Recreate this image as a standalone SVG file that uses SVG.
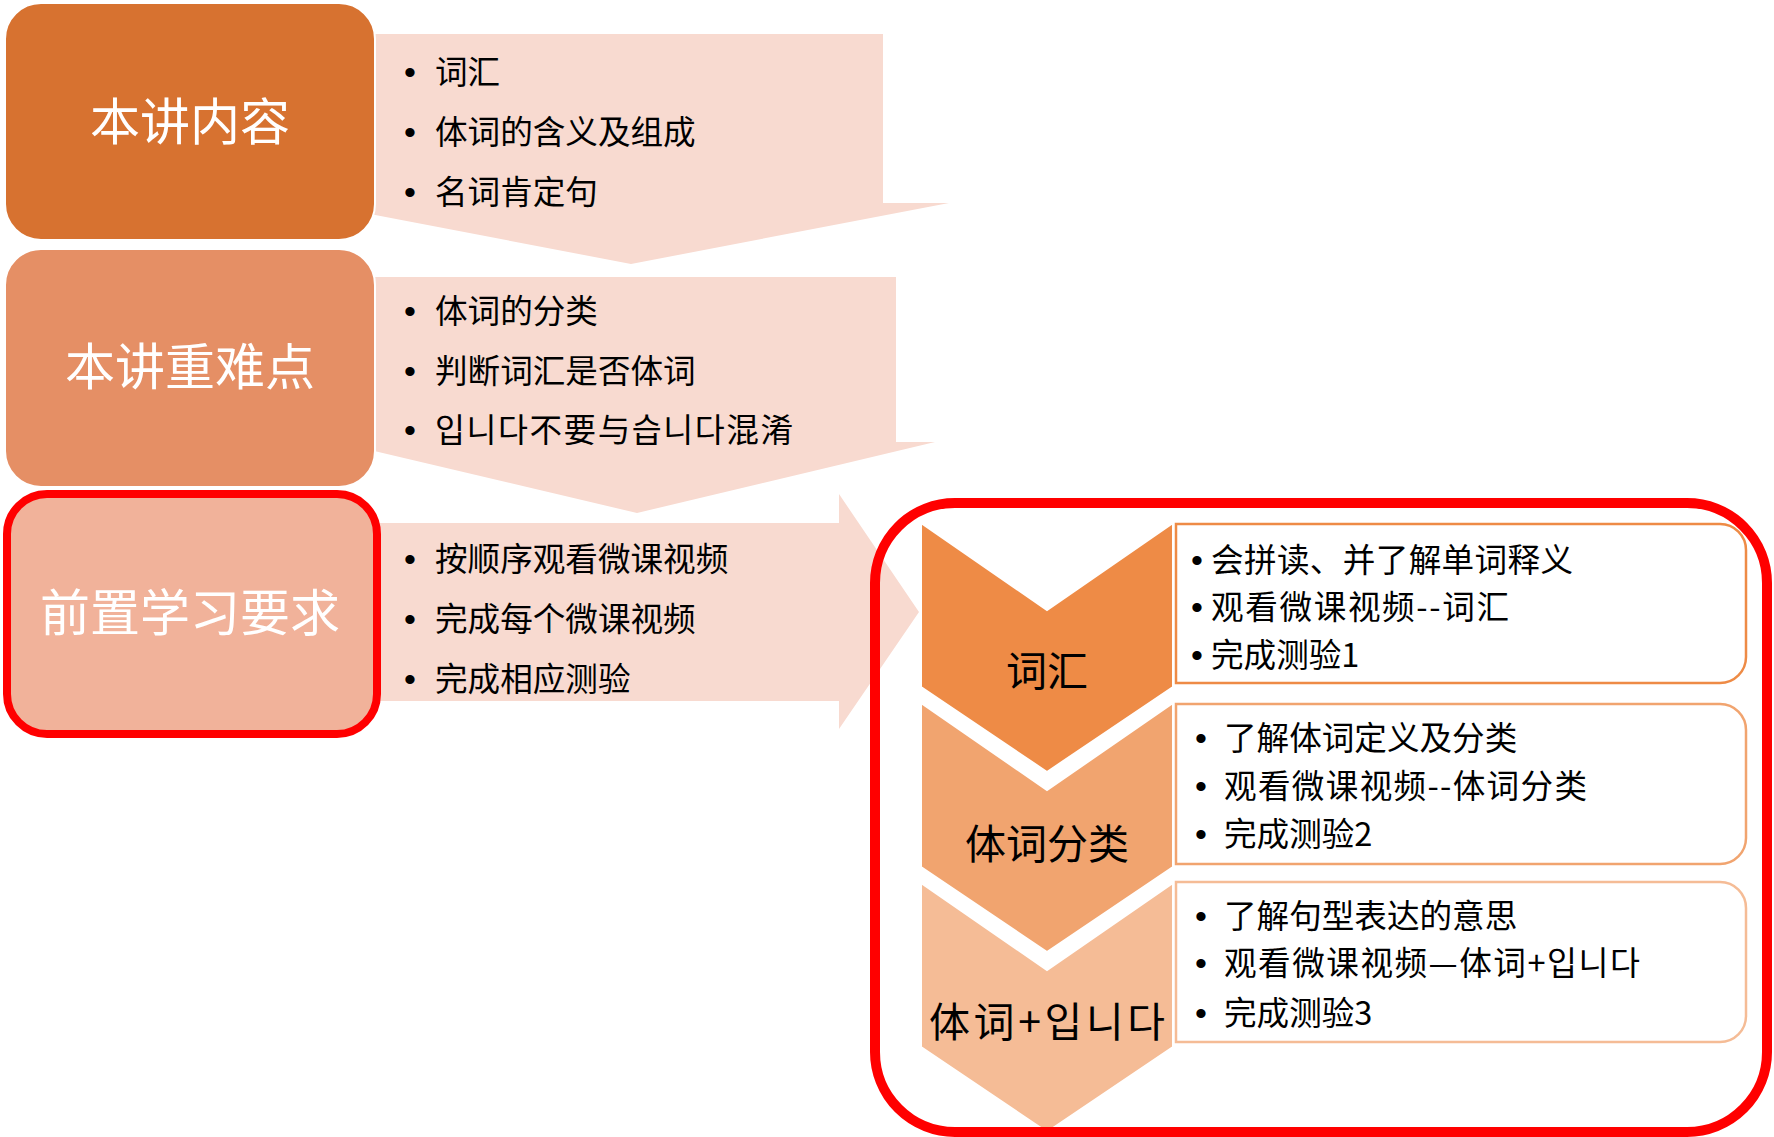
<svg xmlns="http://www.w3.org/2000/svg" width="1774" height="1137" viewBox="0 0 1774 1137">
<style>
.t{font-family:"Noto Sans CJK SC","Noto Sans",sans-serif;font-size:32.6px;fill:#000}
.b{font-family:"Liberation Sans",Arial,sans-serif;font-size:34px;fill:#000;text-anchor:middle}
.h{font-family:"Noto Sans CJK SC","Noto Sans",sans-serif;font-size:50px;fill:#fff;text-anchor:middle}
.c{font-family:"Noto Sans CJK SC","Noto Sans",sans-serif;font-size:41px;fill:#000;text-anchor:middle}
.arr{fill:#F8DAD0}
.box{stroke:#fff;stroke-width:2}
.chev{stroke:#fff;stroke-width:2}
.tb{fill:#fff;stroke-width:2.5}
</style>
<rect width="1774" height="1137" fill="#fff"/>
<g id="connectors">
<polygon class="arr" points="370,34 883,34 883,203 949,203 631,264 370,214"/>
<polygon class="arr" points="370,277 896,277 896,442 935,442 637,513 370,450"/>
<polygon class="arr" points="370,523 839,523 839,494 919,612 839,729 839,701 370,701"/>
</g>
<g id="node-content">
<rect class="box" x="5" y="3" width="370" height="237" rx="36" fill="#D77230"/>
<text class="h" x="190" y="140">本讲内容</text>
<text class="b" x="410" y="84">•</text><text class="t" x="435" y="84">词汇</text>
<text class="b" x="410" y="144">•</text><text class="t" x="435" y="144">体词的含义及组成</text>
<text class="b" x="410" y="204">•</text><text class="t" x="435" y="204">名词肯定句</text>
</g>
<g id="node-keypoints">
<rect class="box" x="5" y="249" width="370" height="238" rx="36" fill="#E58F65"/>
<text class="h" x="190" y="385">本讲重难点</text>
<text class="b" x="410" y="323">•</text><text class="t" x="435" y="323">体词的分类</text>
<text class="b" x="410" y="383">•</text><text class="t" x="435" y="383">判断词汇是否体词</text>
<text class="b" x="410" y="442">•</text><text class="t" x="435" y="442" textLength="358" lengthAdjust="spacing">입니다不要与습니다混淆</text>
</g>
<g id="node-prereq">
<rect x="5" y="496" width="370" height="237" rx="36" fill="#F1B29A"/>
<rect x="7" y="494" width="370" height="240" rx="40" fill="none" stroke="#FF0000" stroke-width="8"/>
<text class="h" x="190" y="631">前置学习要求</text>
<text class="b" x="410" y="571">•</text><text class="t" x="435" y="571">按顺序观看微课视频</text>
<text class="b" x="410" y="631">•</text><text class="t" x="435" y="631">完成每个微课视频</text>
<text class="b" x="410" y="691">•</text><text class="t" x="435" y="691">完成相应测验</text>
</g>
<g id="node-vocab">
<polygon class="chev" points="921,523 1047,610 1173,523 1173,687 1047,772 921,687" fill="#EE8B46"/>
<text class="c" x="1047" y="686">词汇</text>
<path class="tb" stroke="#EE8B46" d="M1176,524 H1720 A26,26 0 0 1 1746,550 V657 A26,26 0 0 1 1720,683 H1176 Z"/>
<text class="b" x="1197" y="572">•</text><text class="t" x="1211" y="572" textLength="362" lengthAdjust="spacing">会拼读、并了解单词释义</text>
<text class="b" x="1197" y="619">•</text><text class="t" x="1211" y="619" textLength="298" lengthAdjust="spacing">观看微课视频--词汇</text>
<text class="b" x="1197" y="667">•</text><text class="t" x="1211" y="667">完成测验1</text>
</g>
<g id="node-classify">
<polygon class="chev" points="921,703 1047,790 1173,703 1173,867 1047,952 921,867" fill="#F1A46F"/>
<text class="c" x="1047" y="859">体词分类</text>
<path class="tb" stroke="#F1A46F" d="M1176,704 H1720 A26,26 0 0 1 1746,730 V838 A26,26 0 0 1 1720,864 H1176 Z"/>
<text class="b" x="1201" y="750">•</text><text class="t" x="1224" y="750">了解体词定义及分类</text>
<text class="b" x="1201" y="798">•</text><text class="t" x="1224" y="798" textLength="363" lengthAdjust="spacing">观看微课视频--体词分类</text>
<text class="b" x="1201" y="846">•</text><text class="t" x="1224" y="846">完成测验2</text>
</g>
<g id="node-pattern">
<polygon class="chev" points="921,883 1047,970 1173,883 1173,1047 1047,1132 921,1047" fill="#F5BC96"/>
<text class="c" x="1047" y="1037" textLength="236" lengthAdjust="spacing">体词+입니다</text>
<path class="tb" stroke="#F5BC96" d="M1176,882 H1720 A26,26 0 0 1 1746,908 V1016 A26,26 0 0 1 1720,1042 H1176 Z"/>
<text class="b" x="1201" y="928">•</text><text class="t" x="1224" y="928">了解句型表达的意思</text>
<text class="b" x="1201" y="975">•</text><text class="t" x="1224" y="975" textLength="416" lengthAdjust="spacing">观看微课视频—体词+입니다</text>
<text class="b" x="1201" y="1025">•</text><text class="t" x="1224" y="1025">完成测验3</text>
</g>
<g id="highlight">
<rect x="875" y="503" width="892" height="629" rx="80" fill="none" stroke="#FF0000" stroke-width="10"/>
</g>
</svg>
